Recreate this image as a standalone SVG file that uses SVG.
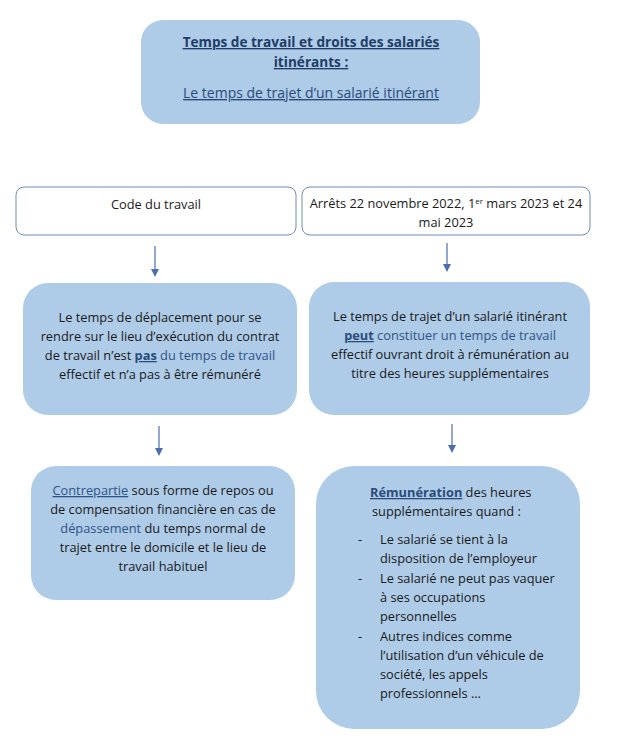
<svg xmlns="http://www.w3.org/2000/svg" width="641" height="756" viewBox="0 0 641 756">
<defs>
<style>
.box{fill:#aecbe8;stroke:none}
.wbox{fill:#ffffff;stroke:#4a6fa5;stroke-width:0.8}
text{font-family:"Open Sans","Noto Sans","Liberation Sans",sans-serif;font-size:12.8px;fill:#1a1a1a}
.c{text-anchor:middle}
.hl{fill:#2e5487}
.kw{fill:#2b4c7a;font-weight:bold;text-decoration:underline}
.title{fill:#1f3d66;font-weight:bold;font-size:13.6px;text-decoration:underline}
.sub{fill:#2b4c7a;font-size:14px;text-decoration:underline}
.conn line{stroke:#4a6fb0;stroke-width:1.2}
</style>
<marker id="ah" markerWidth="8" markerHeight="8" refX="4" refY="4" orient="auto" markerUnits="userSpaceOnUse">
<path d="M0,0 L8,4 L0,8 z" fill="#4a6fb0"/>
</marker>
</defs>
<rect width="641" height="756" fill="#ffffff"/>

<g id="title">
<rect class="box" x="141" y="20" width="339" height="104" rx="22"/>
<text class="c title" x="311" y="47">Temps de travail et droits des salariés</text>
<text class="c title" x="311" y="67">itinérants :</text>
<text class="c sub" x="311" y="98">Le temps de trajet d’un salarié itinérant</text>
</g>

<g id="code-travail">
<rect class="wbox" x="16" y="187" width="280" height="48" rx="8"/>
<text class="c" x="156" y="209">Code du travail</text>
</g>

<g id="arrets">
<rect class="wbox" x="302" y="187" width="288" height="48" rx="8"/>
<text class="c" x="446" y="208">Arrêts 22 novembre 2022, 1<tspan font-size="8" dy="-4">er</tspan><tspan dy="4"> mars 2023 et 24</tspan></text>
<text class="c" x="446" y="227">mai 2023</text>
</g>

<g id="deplacement">
<rect class="box" x="23" y="283" width="274" height="132" rx="25"/>
<text class="c" x="160" y="322">Le temps de déplacement pour se</text>
<text class="c" x="160" y="341">rendre sur le lieu d’exécution du contrat</text>
<text class="c" x="160" y="360">de travail n’est <tspan class="kw">pas</tspan> <tspan class="hl">du temps de travail</tspan></text>
<text class="c" x="160" y="379">effectif et n’a pas à être rémunéré</text>
</g>

<g id="trajet">
<rect class="box" x="309" y="282" width="281" height="133" rx="25"/>
<text class="c" x="450" y="321">Le temps de trajet d’un salarié itinérant</text>
<text class="c" x="450" y="340"><tspan class="kw">peut</tspan> <tspan class="hl">constituer un temps de travail</tspan></text>
<text class="c" x="450" y="359">effectif ouvrant droit à rémunération au</text>
<text class="c" x="450" y="378">titre des heures supplémentaires</text>
</g>

<g id="contrepartie">
<rect class="box" x="31" y="466" width="264" height="134" rx="25"/>
<text class="c" x="163" y="495"><tspan class="hl" text-decoration="underline">Contrepartie</tspan> sous forme de repos ou</text>
<text class="c" x="163" y="514">de compensation financière en cas de</text>
<text class="c" x="163" y="533"><tspan class="hl">dépassement</tspan> du temps normal de</text>
<text class="c" x="163" y="552">trajet entre le domicile et le lieu de</text>
<text class="c" x="163" y="571">travail habituel</text>
</g>

<g id="remuneration">
<rect class="box" x="316" y="466" width="264" height="263" rx="38"/>
<text x="370" y="497"><tspan class="kw">Rémunération</tspan> des heures</text>
<text x="372" y="516">supplémentaires quand :</text>
<text x="358" y="544">-</text>
<text x="380" y="544">Le salarié se tient à la</text>
<text x="380" y="563">disposition de l’employeur</text>
<text x="358" y="583">-</text>
<text x="380" y="583">Le salarié ne peut pas vaquer</text>
<text x="380" y="602">à ses occupations</text>
<text x="380" y="621">personnelles</text>
<text x="358" y="641">-</text>
<text x="380" y="641">Autres indices comme</text>
<text x="380" y="660">l’utilisation d’un véhicule de</text>
<text x="380" y="679">société, les appels</text>
<text x="380" y="698">professionnels …</text>
</g>

<g id="connectors" class="conn">
<line x1="155" y1="246" x2="155" y2="273" marker-end="url(#ah)"/>
<line x1="447" y1="243" x2="447" y2="268" marker-end="url(#ah)"/>
<line x1="159" y1="426" x2="159" y2="452" marker-end="url(#ah)"/>
<line x1="452" y1="424" x2="452" y2="449" marker-end="url(#ah)"/>
</g>
</svg>
